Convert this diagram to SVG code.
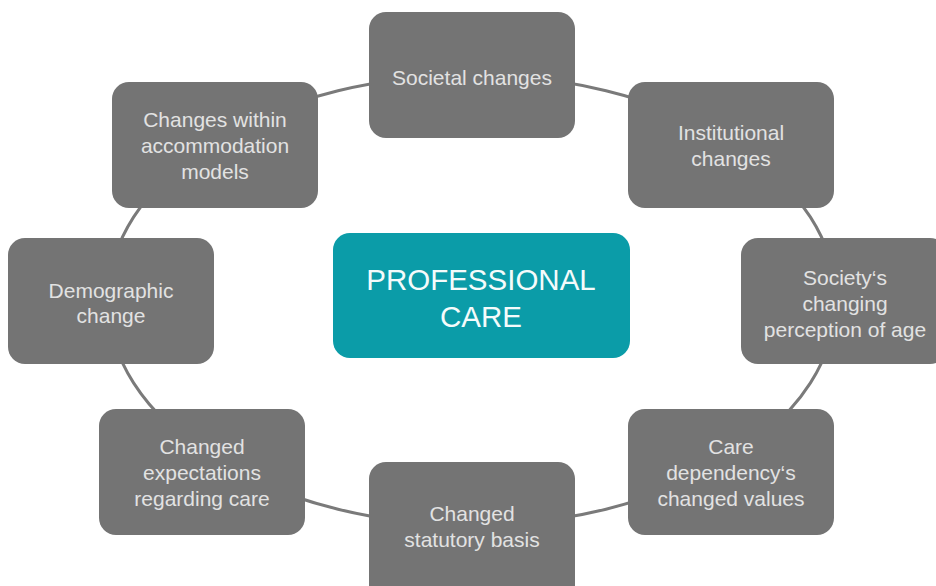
<svg xmlns="http://www.w3.org/2000/svg" width="936" height="586" viewBox="0 0 936 586">
<style>
.node rect{fill:#747474;}
.node text{fill:#e2e2e2;font-family:"Liberation Sans",Arial,sans-serif;font-size:21px;text-anchor:middle;}
.center rect{fill:#0b9ca8;}
.center text{fill:#f4fbfb;font-family:"Liberation Sans",Arial,sans-serif;font-size:29.5px;text-anchor:middle;}
.conn{fill:none;stroke:#7a7a7a;stroke-width:3;}
</style>
<rect width="936" height="586" fill="#ffffff"/>
<g id="connectors">
<ellipse class="conn" cx="472" cy="300" rx="364" ry="225"/>
</g>
<g id="societal" class="node">
<rect x="369" y="12" width="206" height="126" rx="17"/>
<text x="472" y="85">Societal changes</text>
</g>
<g id="institutional" class="node">
<rect x="628" y="82" width="206" height="126" rx="17"/>
<text x="731" y="140">Institutional</text>
<text x="731" y="166">changes</text>
</g>
<g id="perception" class="node">
<rect x="741" y="238" width="206" height="126" rx="17"/>
<text x="845" y="285">Society‘s</text>
<text x="845" y="311">changing</text>
<text x="845" y="337">perception of age</text>
</g>
<g id="dependency" class="node">
<rect x="628" y="409" width="206" height="126" rx="17"/>
<text x="731" y="454">Care</text>
<text x="731" y="480">dependency‘s</text>
<text x="731" y="506">changed values</text>
</g>
<g id="statutory" class="node">
<rect x="369" y="462" width="206" height="140" rx="17"/>
<text x="472" y="521">Changed</text>
<text x="472" y="547">statutory basis</text>
</g>
<g id="expectations" class="node">
<rect x="99" y="409" width="206" height="126" rx="17"/>
<text x="202" y="454">Changed</text>
<text x="202" y="480">expectations</text>
<text x="202" y="506">regarding care</text>
</g>
<g id="demographic" class="node">
<rect x="8" y="238" width="206" height="126" rx="17"/>
<text x="111" y="298">Demographic</text>
<text x="111" y="323">change</text>
</g>
<g id="accommodation" class="node">
<rect x="112" y="82" width="206" height="126" rx="17"/>
<text x="215" y="127">Changes within</text>
<text x="215" y="153">accommodation</text>
<text x="215" y="179">models</text>
</g>
<g id="professional-care" class="center">
<rect x="333" y="233" width="297" height="125" rx="17"/>
<text x="481" y="290">PROFESSIONAL</text>
<text x="481" y="327">CARE</text>
</g>
</svg>
